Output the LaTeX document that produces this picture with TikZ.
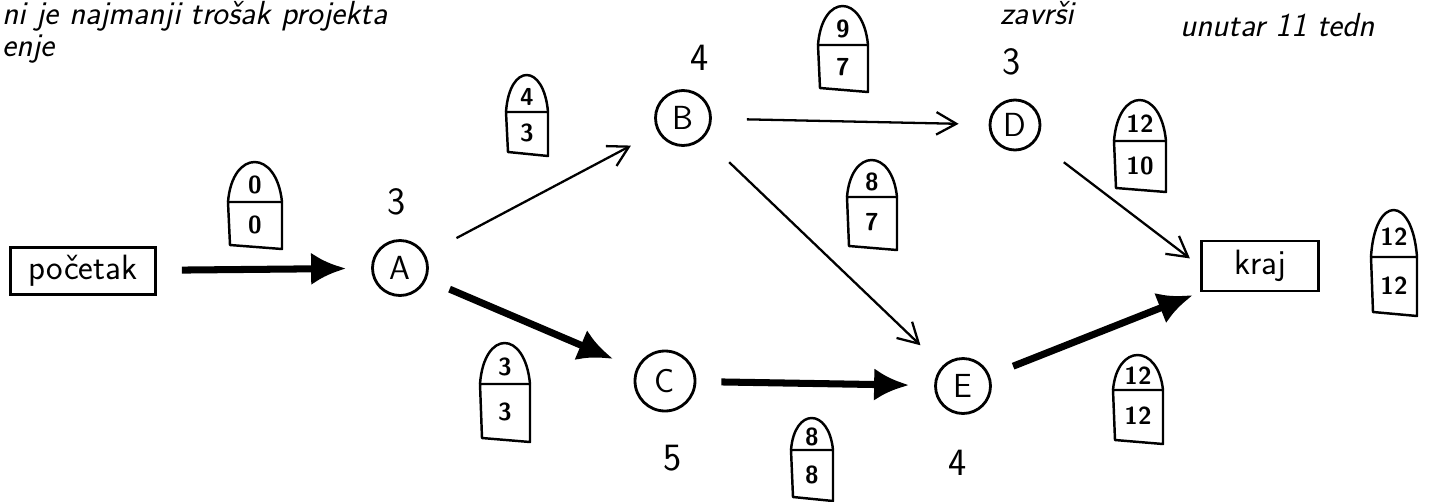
\documentclass[tikz,border=0pt]{standalone}
\usetikzlibrary{arrows.meta}
\begin{document}
\begin{tikzpicture}[x=0.02cm,y=-0.02cm,
  every node/.style={font=\sffamily},
  circnode/.style={draw, circle, line width=1.6pt, minimum size=1.1cm, inner sep=0pt, font=\sffamily\fontsize{19}{21}\selectfont},
  boxnode/.style={draw, line width=1.6pt, inner sep=0pt, font=\sffamily\fontsize{20}{22}\selectfont},
  durnum/.style={font=\sffamily\fontsize{22}{24}\selectfont, inner sep=0pt},
  lblnum/.style={font=\sffamily\bfseries\fontsize{14}{16}\selectfont, inner sep=0pt},
  lblline/.style={line width=1.4pt, line join=round},
  thinarrow/.style={line width=1.3pt, -{Straight Barb[length=4mm,width=4.5mm,line width=1.3pt]}, shorten <=0.7cm, shorten >=0.6cm},
  thickarrow/.style={line width=4pt, -{Latex[length=7mm,width=6.5mm]}, shorten <=0.5cm, shorten >=0.5cm},
  handtext/.style={font=\sffamily\itshape\fontsize{19}{21}\selectfont, inner sep=0pt, anchor=base west}
]
\useasboundingbox (0,0) rectangle (1434,501);

% header text (cut at the top of the sheet)
\node[handtext] (h1) at (2,24) {ni je najmanji trošak projekta};
\node[handtext] (h2) at (1000,24) {završi};
\node[handtext] (h3) at (1180,36) {unutar 11 tedn};
\node[handtext] (h4) at (2,56) {enje};

% tombstone labels: name, x, ytop, ydiv, ybot, width, upper, lower
\newcommand\tombstonelabel[8]{%
  \draw[lblline] ({#2-#6/2},#4) -- ({#2-#6/2+2},#5) -- ({#2+#6/2},{#5+4}) -- ({#2+#6/2},#4) -- cycle;
  \draw[lblline] ({#2-#6/2},#4) .. controls ({#2-#6/2+0.08*#6},{#4-1.333*(#4-#3)}) and ({#2+#6/2-0.1*#6},{#4-1.333*(#4-#3)}) .. ({#2+#6/2},#4);
  \node[lblnum] (#1u) at (#2,{(#3+#4)/2+3}) {#7};
  \node[lblnum] (#1l) at (#2,{(#4+#5)/2+1}) {#8};
}

% nodes
\node[boxnode, minimum width=2.9cm, minimum height=0.95cm] (start) at (83,271) {početak};
\node[circnode] (A) at (400,268) {A};
\node[circnode] (B) at (683,118) {B};
\node[circnode, minimum size=1.0cm] (D) at (1015,125) {D};
\node[circnode, minimum size=1.2cm] (C) at (665,381) {C};
\node[circnode] (E) at (963,386) {E};
\node[boxnode, minimum width=2.35cm, minimum height=1.0cm] (end) at (1260,266) {kraj};

% durations
\node[durnum] (dA) at (397,202) {3};
\node[durnum] (dB) at (700,58) {4};
\node[durnum] (dD) at (1012,62) {3};
\node[durnum] (dC) at (673,458) {5};
\node[durnum] (dE) at (958,463) {4};

% labels
\tombstonelabel{l0}{255}{162}{202}{245}{54}{0}{0}
\tombstonelabel{lAB}{527}{75}{112}{152}{42}{4}{3}
\tombstonelabel{lBD}{843}{6}{45}{88}{50}{9}{7}
\tombstonelabel{lDk}{1140}{100}{141}{188}{52}{12}{10}
\tombstonelabel{lk}{1394}{210}{257}{312}{46}{12}{12}
\tombstonelabel{lAC}{505}{343}{384}{438}{50}{3}{3}
\tombstonelabel{lBE}{872}{160}{197}{246}{50}{8}{7}
\tombstonelabel{lCE}{812}{418}{450}{497}{42}{8}{8}
\tombstonelabel{lEk}{1138}{355}{390}{440}{50}{12}{12}

% connectors
\draw[thickarrow] (start) -- (A);
\draw[thinarrow] (A) -- (B);
\draw[thickarrow] (A) -- (C);
\draw[thinarrow] (B) -- (D);
\draw[thinarrow] (B) -- (E);
\draw[thinarrow, shorten >=0.25cm] (D) -- (end.west);
\draw[thickarrow] (C) -- (E);
\draw[thickarrow, shorten >=0.15cm] (E) -- (end.south west);
\end{tikzpicture}
\end{document}
